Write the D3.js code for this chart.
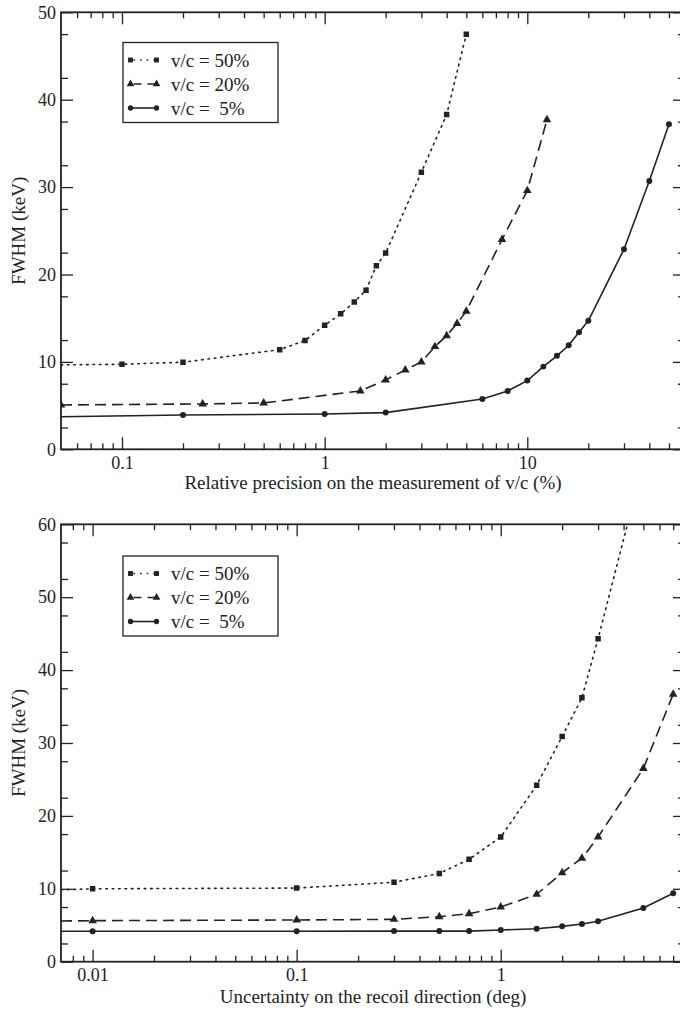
<!DOCTYPE html>
<html>
<head>
<meta charset="utf-8">
<script src="https://cdnjs.cloudflare.com/ajax/libs/d3/7.8.5/d3.min.js"></script>
<style>
  html, body { margin: 0; padding: 0; background: #fff; }
  svg { display: block; }
  text { font-family: "Liberation Serif", "Times New Roman", serif; fill: #222; }
</style>
</head>
<body>
<svg id="chart" width="680" height="1011"></svg>
<script>
// ---- Panel 1: FWHM vs relative precision on v/c (%) ----
const velX50 = [0.05, 0.1, 0.2, 0.6, 0.8, 1.0, 1.2, 1.4, 1.6, 1.8, 2.0, 3.0, 4.0, 5.0];
const velY50 = [9.66, 9.73, 9.96, 11.4, 12.45, 14.2, 15.5, 16.85, 18.2, 21.0, 22.45, 31.7, 38.3, 47.5];
const velX20 = [0.05, 0.25, 0.5, 1.5, 2.0, 2.5, 3.0, 3.5, 4.0, 4.5, 5.0, 7.5, 10, 12.5];
const velY20 = [5.07, 5.19, 5.3, 6.68, 7.94, 9.08, 10.0, 11.75, 13.0, 14.4, 15.8, 24.0, 29.6, 37.7];
const velX5  = [0.05, 0.2, 1.0, 2.0, 6, 8, 10, 12, 14, 16, 18, 20, 30, 40, 50];
const velY5  = [3.73, 3.93, 4.04, 4.2, 5.76, 6.68, 7.86, 9.46, 10.7, 11.9, 13.4, 14.7, 22.9, 30.7, 37.2];

// ---- Panel 2: FWHM vs uncertainty on recoil direction (deg) ----
const dirX50 = [0.007, 0.01, 0.1, 0.3, 0.5, 0.7, 1.0, 1.5, 2.0, 2.5, 3.0, 5.0];
const dirY50 = [9.86, 10.0, 10.1, 10.9, 12.1, 14.05, 17.1, 24.2, 30.9, 36.2, 44.3, 68.5];
const dirX20 = [0.007, 0.01, 0.1, 0.3, 0.5, 0.7, 1.0, 1.5, 2.0, 2.5, 3.0, 5.0, 7.0];
const dirY20 = [5.58, 5.63, 5.72, 5.81, 6.17, 6.59, 7.5, 9.24, 12.2, 14.2, 17.1, 26.5, 36.7];
const dirX5  = [0.007, 0.01, 0.1, 0.3, 0.5, 0.7, 1.0, 1.5, 2.0, 2.5, 3.0, 5.0, 7.0];
const dirY5  = [4.17, 4.17, 4.17, 4.2, 4.2, 4.2, 4.35, 4.53, 4.85, 5.17, 5.54, 7.37, 9.38];

// Legend labels
const legendLabels = ["v/c = 50%", "v/c = 20%", "v/c =  5%"];

// Axis ticks
const velMajorX = [0.1, 1, 10];
const velMinorX = [0.06, 0.07, 0.08, 0.09, 0.2, 0.3, 0.4, 0.5, 0.6, 0.7, 0.8, 0.9,
                   2, 3, 4, 5, 6, 7, 8, 9, 20, 30, 40, 50];
const dirMajorX = [0.01, 0.1, 1];
const dirMinorX = [0.008, 0.009, 0.02, 0.03, 0.04, 0.05, 0.06, 0.07, 0.08, 0.09,
                   0.2, 0.3, 0.4, 0.5, 0.6, 0.7, 0.8, 0.9, 2, 3, 4, 5, 6, 7];

const svg = d3.select("#chart");

// Styles per series: 50% dotted/squares, 20% dashed/triangles, 5% solid/circles
const seriesStyles = [
  { dash: "1.6,4.8", symbol: d3.symbolSquare, size: 30 },
  { dash: "11,6",    symbol: d3.symbolTriangle, size: 32 },
  { dash: null,      symbol: d3.symbolCircle, size: 28 }
];

function drawPanel(cfg) {
  const { left, right, top, bottom, xDomain, yMax, majorX, minorX, yMajor, yMinor,
          xTitle, titleGap, series, legend, id } = cfg;
  const x = d3.scaleLog().domain(xDomain).range([left, right]);
  const y = d3.scaleLinear().domain([0, yMax]).range([bottom, top]);
  const g = svg.append("g");

  const clipId = "clip-" + id;
  svg.append("clipPath").attr("id", clipId)
    .append("rect").attr("x", left).attr("y", top)
    .attr("width", right - left).attr("height", bottom - top);

  // axes: inward ticks on all four sides
  const fmt = d => (d >= 1 ? d3.format("d")(d) : String(+d.toPrecision(1)));
  g.append("g").attr("transform", `translate(0,${bottom})`)
    .call(d3.axisBottom(x).tickValues(majorX).tickSize(-12).tickPadding(7).tickFormat(fmt));
  g.append("g").attr("transform", `translate(0,${bottom})`)
    .call(d3.axisBottom(x).tickValues(minorX).tickSize(-6).tickFormat(""));
  g.append("g").attr("transform", `translate(0,${top})`)
    .call(d3.axisTop(x).tickValues(majorX).tickSize(-12).tickFormat(""));
  g.append("g").attr("transform", `translate(0,${top})`)
    .call(d3.axisTop(x).tickValues(minorX).tickSize(-6).tickFormat(""));
  g.append("g").attr("transform", `translate(${left},0)`)
    .call(d3.axisLeft(y).tickValues(yMajor).tickSize(-12).tickPadding(5).tickFormat(d3.format("d")));
  g.append("g").attr("transform", `translate(${left},0)`)
    .call(d3.axisLeft(y).tickValues(yMinor).tickSize(-7).tickFormat(""));
  g.append("g").attr("transform", `translate(${right},0)`)
    .call(d3.axisRight(y).tickValues(yMajor).tickSize(-12).tickFormat(""));
  g.append("g").attr("transform", `translate(${right},0)`)
    .call(d3.axisRight(y).tickValues(yMinor).tickSize(-7).tickFormat(""));

  g.selectAll(".domain").remove();
  g.selectAll("g").attr("font-family", null).attr("font-size", null);
  g.selectAll(".tick line").attr("stroke", "#222").attr("stroke-width", 1.3);
  g.selectAll(".tick text").attr("font-size", 18).attr("fill", "#222");

  // frame
  g.append("rect").attr("x", left).attr("y", top)
    .attr("width", right - left).attr("height", bottom - top)
    .attr("fill", "none").attr("stroke", "#222").attr("stroke-width", 1.8);

  // axis titles
  g.append("text").attr("x", (left + right) / 2).attr("y", bottom + titleGap)
    .attr("text-anchor", "middle").attr("font-size", 19).text(xTitle);
  g.append("text")
    .attr("transform", `translate(${left - 36},${(top + bottom) / 2}) rotate(-90)`)
    .attr("text-anchor", "middle").attr("font-size", 19).text("FWHM (keV)");

  // series
  const line = d3.line().x(d => x(d[0])).y(d => y(d[1]));
  const plot = g.append("g").attr("clip-path", `url(#${clipId})`);
  series.forEach((s, i) => {
    const st = seriesStyles[i];
    const pts = s.xs.map((v, k) => [v, s.ys[k]]);
    plot.append("path").datum(pts).attr("d", line)
      .attr("fill", "none").attr("stroke", "#222").attr("stroke-width", 1.6)
      .attr("stroke-dasharray", st.dash)
      .attr("stroke-linecap", i === 0 ? "round" : "butt");
    plot.selectAll(null).data(pts.slice(s.skip)).enter().append("path")
      .attr("d", d3.symbol().type(st.symbol).size(st.size))
      .attr("transform", d => `translate(${x(d[0])},${y(d[1])})`)
      .attr("fill", "#222");
  });

  // legend
  const lg = g.append("g");
  lg.append("rect").attr("x", legend.x).attr("y", legend.y)
    .attr("width", 155).attr("height", 80)
    .attr("fill", "#fff").attr("stroke", "#222").attr("stroke-width", 1.3);
  legendLabels.forEach((lab, i) => {
    const st = seriesStyles[i];
    const ry = legend.y + 17.5 + i * 24;
    const x0 = legend.x + 7.5, x1 = legend.x + 33.5;
    lg.append("line").attr("x1", x0).attr("x2", x1).attr("y1", ry).attr("y2", ry)
      .attr("stroke", "#222").attr("stroke-width", 1.6)
      .attr("stroke-dasharray", i === 0 ? "1.6,5" : i === 1 ? "8,6" : null)
      .attr("stroke-dashoffset", i === 0 ? -3 : i === 1 ? -3 : 0);
    [x0, x1].forEach(px => {
      lg.append("path").attr("d", d3.symbol().type(st.symbol).size(st.size * 0.8)())
        .attr("transform", `translate(${px},${ry})`).attr("fill", "#222");
    });
    lg.append("text").attr("x", legend.x + 48).attr("y", ry).attr("dy", "0.35em")
      .attr("font-size", 19).style("white-space", "pre").text(lab);
  });
}

drawPanel({
  id: "vel", left: 61, right: 685, top: 12.3, bottom: 449.3,
  xDomain: [0.05, 60], yMax: 50,
  majorX: velMajorX, minorX: velMinorX,
  yMajor: d3.range(0, 51, 10), yMinor: d3.range(2.5, 50, 5),
  xTitle: "Relative precision on the measurement of v/c (%)", titleGap: 40,
  series: [
    { xs: velX50, ys: velY50, skip: 1 },
    { xs: velX20, ys: velY20, skip: 0 },
    { xs: velX5,  ys: velY5,  skip: 1 }
  ],
  legend: { x: 123, y: 42.5 }
});

drawPanel({
  id: "dir", left: 61, right: 685, top: 524.3, bottom: 961.7,
  xDomain: [0.007, 8], yMax: 60,
  majorX: dirMajorX, minorX: dirMinorX,
  yMajor: d3.range(0, 61, 10), yMinor: d3.range(2.5, 60, 5),
  xTitle: "Uncertainty on the recoil direction (deg)", titleGap: 41,
  series: [
    { xs: dirX50, ys: dirY50, skip: 1 },
    { xs: dirX20, ys: dirY20, skip: 1 },
    { xs: dirX5,  ys: dirY5,  skip: 1 }
  ],
  legend: { x: 123, y: 556 }
});
</script>
</body>
</html>
